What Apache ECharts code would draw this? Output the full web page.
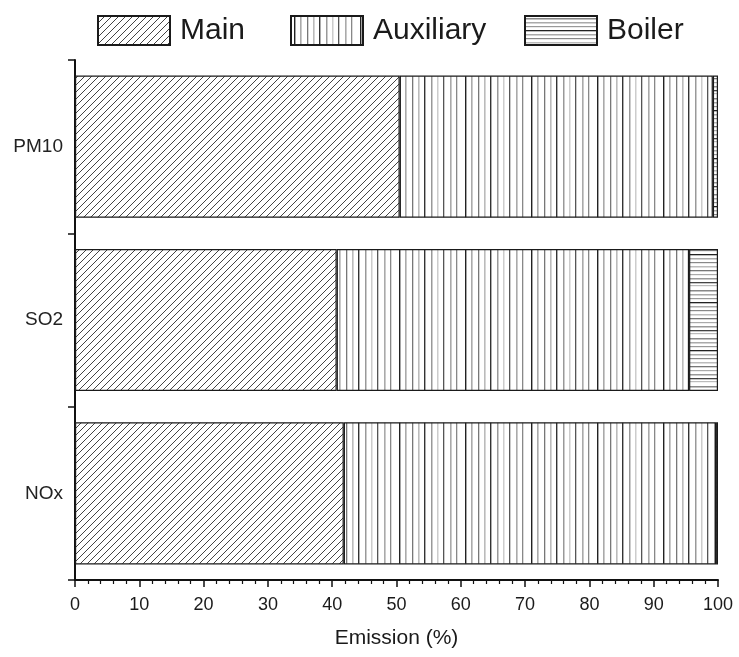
<!DOCTYPE html>
<html>
<head>
<meta charset="utf-8">
<script src="https://cdn.jsdelivr.net/npm/echarts@6/dist/echarts.min.js"></script>
<style>
html,body{margin:0;padding:0;background:#fff;}
#chart{width:739px;height:657px;}
</style>
</head>
<body>
<div id="chart"></div>
<script>
// ---- data ----
var categories = ['NOx', 'SO2', 'PM10'];
var seriesNames = ['Main', 'Auxiliary', 'Boiler'];
var mainValues = [41.8, 40.7, 50.5];
var auxiliaryValues = [57.9, 54.8, 48.7];
var boilerValues = [0.3, 4.5, 0.8];
var xTicks = [0, 10, 20, 30, 40, 50, 60, 70, 80, 90, 100];

// ---- fill patterns (styles) ----
function diagPattern() {
  var s = 7, c = document.createElement('canvas');
  c.width = s; c.height = s;
  var g = c.getContext('2d');
  g.fillStyle = '#fff'; g.fillRect(0, 0, s, s);
  g.strokeStyle = '#444'; g.lineWidth = 1;
  g.beginPath();
  g.moveTo(-1, s + 1); g.lineTo(s + 1, -1);
  g.moveTo(-1, 1); g.lineTo(1, -1);
  g.moveTo(s - 1, s + 1); g.lineTo(s + 1, s - 1);
  g.stroke();
  return c;
}
function vertPattern() {
  var w = 66, c = document.createElement('canvas');
  c.width = w; c.height = 8;
  var g = c.getContext('2d');
  g.fillStyle = '#fff'; g.fillRect(0, 0, w, 8);
  var lines = [[3,'#222',1.4],[9,'#aaa',1.6],[16,'#777',1.3],[22,'#bbb',1.6],[28,'#333',1.4],
               [35,'#999',1.5],[41,'#ccc',1.5],[47,'#555',1.3],[54,'#aaa',1.6],[60,'#888',1.3]];
  lines.forEach(function (l) {
    g.fillStyle = l[1];
    g.fillRect(l[0], 0, l[2], 8);
  });
  return c;
}
function horzPattern() {
  var h = 48, c = document.createElement('canvas');
  c.width = 8; c.height = h;
  var g = c.getContext('2d');
  g.fillStyle = '#fff'; g.fillRect(0, 0, 8, h);
  var lines = [[2,'#888',1.5],[6,'#aaa',1.5],[10,'#999',1.2],[14,'#222',1.3],[18,'#aaa',1.5],[22,'#888',1.2],
               [26,'#bbb',1.5],[30,'#777',1.3],[34,'#aaa',1.2],[38,'#999',1.5],[42,'#444',1.3],[45,'#bbb',1.2]];
  lines.forEach(function (l) {
    g.fillStyle = l[1];
    g.fillRect(0, l[0], 8, l[2]);
  });
  return c;
}
var patterns = [
  { image: diagPattern(), repeat: 'repeat' },
  { image: vertPattern(), repeat: 'repeat' },
  { image: horzPattern(), repeat: 'repeat' }
];
var values = [mainValues, auxiliaryValues, boilerValues];

var chart = echarts.init(document.getElementById('chart'), null, { renderer: 'canvas' });
var font = 'Liberation Sans, Arial, sans-serif';
var legendLefts = [97, 290, 524];

var option = {
  animation: false,
  backgroundColor: '#fff',
  textStyle: { fontFamily: font },
  legend: seriesNames.map(function (name, i) {
    return {
      top: 15,
      left: legendLefts[i],
      itemWidth: 72,
      itemHeight: 29,
      icon: 'rect',
      padding: 0,
      textStyle: { fontSize: 30, color: '#1a1a1a', fontFamily: font, padding: [0, 0, 0, 5] },
      data: [name]
    };
  }),
  grid: { left: 75, right: 21, top: 60, bottom: 77, containLabel: false },
  xAxis: {
    type: 'value',
    min: xTicks[0],
    max: xTicks[xTicks.length - 1],
    interval: 10,
    name: 'Emission (%)',
    nameLocation: 'middle',
    nameGap: 48,
    nameTextStyle: { fontSize: 21, color: '#1a1a1a', fontFamily: font },
    axisLine: { show: true, lineStyle: { color: '#111', width: 2 } },
    axisTick: { show: true, length: 7, lineStyle: { color: '#111', width: 1.5 } },
    minorTick: { show: true, splitNumber: 5, length: 4, lineStyle: { color: '#111', width: 1.2 } },
    axisLabel: { fontSize: 18, color: '#1a1a1a', margin: 16, fontFamily: font },
    splitLine: { show: false }
  },
  yAxis: {
    type: 'category',
    data: categories,
    axisLine: { show: true, lineStyle: { color: '#111', width: 2 } },
    axisTick: { show: true, length: 7, lineStyle: { color: '#111', width: 1.5 } },
    axisLabel: { fontSize: 19, color: '#222', margin: 12, fontFamily: font },
    splitLine: { show: false }
  },
  series: seriesNames.map(function (name, i) {
    return {
      name: name,
      type: 'bar',
      stack: 'total',
      barCategoryGap: '18%',
      data: values[i],
      itemStyle: {
        color: patterns[i],
        borderColor: '#1a1a1a',
        borderWidth: 1.2
      },
      emphasis: { disabled: true }
    };
  })
};
chart.setOption(option);
</script>
</body>
</html>
